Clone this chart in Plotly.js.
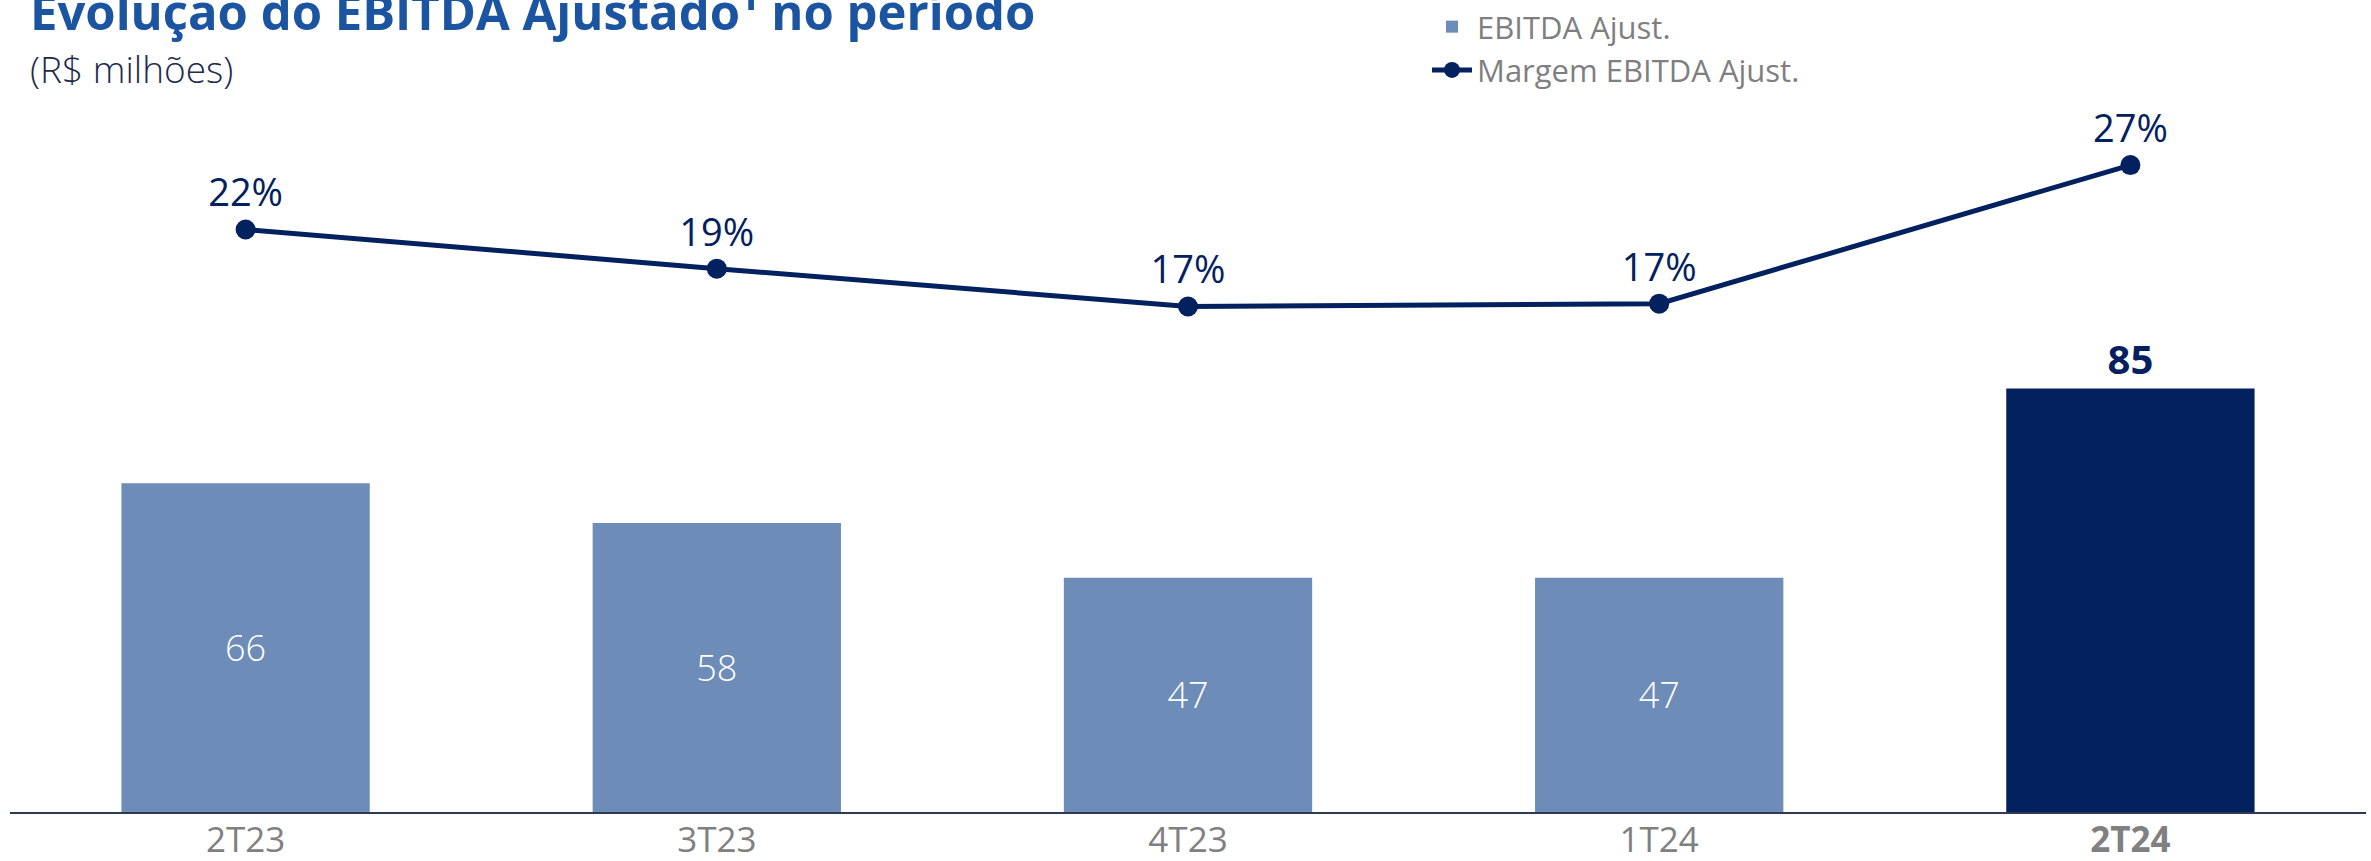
<!DOCTYPE html>
<html>
<head>
<meta charset="utf-8">
<script src="https://cdn.plot.ly/plotly-3.0.1.min.js"></script>
<style>
  html, body { margin: 0; padding: 0; background: #ffffff; }
  #chart { width: 2371px; height: 861px; }
</style>
</head>
<body>
<div id="chart"></div>
<script>
// ---- data ----
const categories = ['2T23', '3T23', '4T23', '1T24', '2T24'];
const ebitdaAjust = [66, 58, 47, 47, 85];
const margemEbitda = [22.2, 19.4, 16.7, 16.9, 26.8];
const margemLabels = ['22%', '19%', '17%', '17%', '27%'];
const barLabels = ['66', '58', '47', '47', '85'];
const tickLabels = ['2T23', '3T23', '4T23', '1T24', '<b>2T24</b>'];

// ---- styles ----
const LIGHT = '#6d8cb8';
const NAVY = '#03205f';
const FONT = 'Open Sans, Noto Sans, sans-serif';
const barColors = categories.map((c, i) => i === categories.length - 1 ? NAVY : LIGHT);
const barTextPos = categories.map((c, i) => i === categories.length - 1 ? 'outside' : 'inside');

const traces = [
  {
    type: 'bar',
    name: 'EBITDA Ajust.',
    x: categories,
    y: ebitdaAjust,
    width: 0.527,
    marker: { color: barColors, line: { width: 0 } },
    text: barLabels,
    textposition: barTextPos,
    insidetextanchor: 'middle',
    constraintext: 'none',
    insidetextfont: { family: FONT, size: 36, color: '#ffffff', weight: 300 },
    outsidetextfont: { family: FONT, size: 40, color: NAVY, weight: 700 },
    cliponaxis: false,
    hoverinfo: 'skip'
  },
  {
    type: 'scatter',
    name: 'Margem EBITDA Ajust.',
    x: categories,
    y: margemEbitda,
    yaxis: 'y2',
    mode: 'lines+markers+text',
    line: { color: NAVY, width: 5 },
    marker: { color: NAVY, size: 20 },
    text: margemLabels,
    textposition: 'top center',
    textfont: { family: FONT, size: 38, color: NAVY, weight: 400 },
    cliponaxis: false,
    hoverinfo: 'skip'
  }
];

const layout = {
  width: 2371,
  height: 861,
  margin: { l: 10, r: 5, t: 0, b: 49 },
  paper_bgcolor: '#ffffff',
  plot_bgcolor: '#ffffff',
  font: { family: FONT },
  title: {
    text: 'Evolução do EBITDA Ajustado¹ no período',
    xref: 'container', x: 30 / 2371, xanchor: 'left',
    yref: 'container', y: 0.9855, yanchor: 'middle',
    font: { family: FONT, size: 49, weight: 700, color: '#1b54a0' }
  },
  showlegend: true,
  legend: {
    xref: 'paper', x: (1427 - 10) / 2356, xanchor: 'left',
    yref: 'paper', y: 1.0, yanchor: 'top',
    font: { family: FONT, size: 31, color: '#7f7f7f' },
    bgcolor: 'rgba(0,0,0,0)',
    traceorder: 'normal',
    itemwidth: 40
  },
  xaxis: {
    type: 'category',
    tickmode: 'array',
    tickvals: categories,
    ticktext: tickLabels,
    tickfont: { family: FONT, size: 35, color: '#808080' },
    ticklabelstandoff: -4,
    showline: true, linecolor: '#2e3a55', linewidth: 2,
    ticks: '', showgrid: false, zeroline: false, fixedrange: true
  },
  yaxis: {
    range: [0, 163], visible: false, showgrid: false, zeroline: false, fixedrange: true
  },
  yaxis2: {
    range: [-19.41, 38.59], overlaying: 'y', side: 'right', visible: false,
    showgrid: false, zeroline: false, fixedrange: true
  },
  bargap: 0.47,
  annotations: [
    {
      text: '(R$ milhões)',
      xref: 'paper', x: 18 / 2356, xanchor: 'left',
      yref: 'paper', y: 1 - 68 / 812, yanchor: 'middle',
      showarrow: false,
      font: { family: FONT, size: 37, color: '#1f2a4e', weight: 300 }
    }
  ]
};

Plotly.newPlot('chart', traces, layout, { displayModeBar: false, staticPlot: true });
</script>
</body>
</html>
